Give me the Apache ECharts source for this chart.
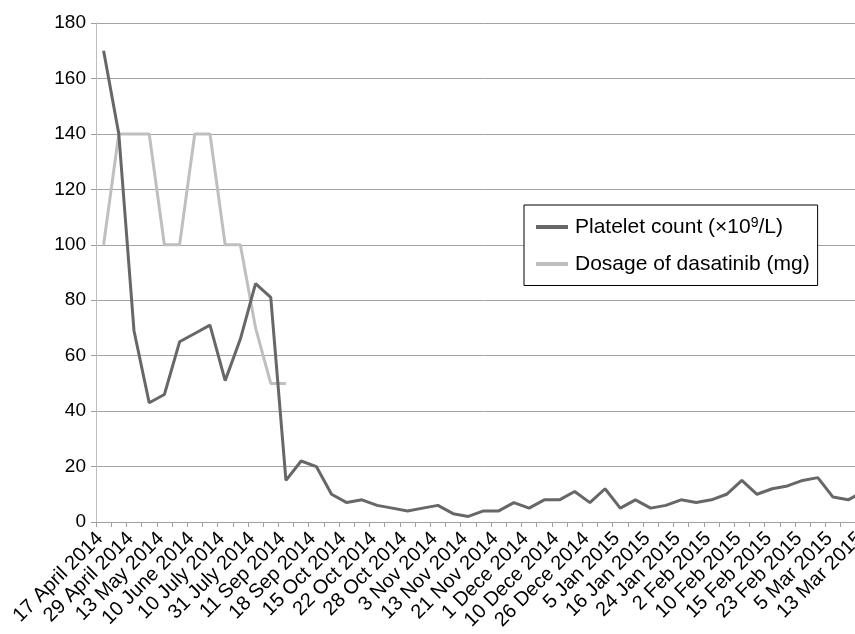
<!DOCTYPE html>
<html>
<head>
<meta charset="utf-8">
<script src="https://cdn.jsdelivr.net/npm/echarts@6/dist/echarts.min.js"></script>
<style>
html,body{margin:0;padding:0;background:#fff;overflow:hidden;width:855px;height:634px;}
#chart{width:871px;height:634px;}
</style>
</head>
<body>
<div id="chart"></div>
<script>
// Category labels (every other date is labelled in the original; unlabelled ones left blank)
const categories = [
  "17 April 2014","","29 April 2014","","13 May 2014","","10 June 2014","","10 July 2014","",
  "31 July 2014","","11 Sep 2014","","18 Sep 2014","","15 Oct 2014","","22 Oct 2014","",
  "28 Oct 2014","","3 Nov 2014","","13 Nov 2014","","21 Nov 2014","","1 Dece 2014","",
  "10 Dece 2014","","26 Dece 2014","","5 Jan 2015","","16 Jan 2015","","24 Jan 2015","",
  "2 Feb 2015","","10 Feb 2015","","15 Feb 2015","","23 Feb 2015","","5 Mar 2015","",
  "13 Mar 2015"
];
const plateletName = "Platelet count (×10⁹/L)";
const dosageName = "Dosage of dasatinib (mg)";
const plateletValues = [
  170,140,69,43,46,65,68,71,51,66,
  86,81,15,22,20,10,7,8,6,5,
  4,5,6,3,2,4,4,7,5,8,
  8,11,7,12,5,8,5,6,8,7,
  8,10,15,10,12,13,15,16,9,8,
  11
];
const dosageValues = [100,140,140,140,100,100,140,140,100,100,70,50,50];
const yTicks = {min:0, max:180, interval:20};

const chart = echarts.init(document.getElementById('chart'), null, {renderer:'canvas'});
const FONT = 'Liberation Sans, Arial, sans-serif';
chart.setOption({
  backgroundColor:'#ffffff',
  animation:false,
  textStyle:{fontFamily:FONT},
  grid:{left:96, top:23, bottom:112, right:0, containLabel:false},
  legend:{
    orient:'vertical',
    left:524, top:205,
    padding:[11,8,11,12],
    borderColor:'#000', borderWidth:1,
    backgroundColor:'#fff',
    itemWidth:32, itemHeight:4, itemGap:16,
    icon:'rect',
    data:[plateletName, dosageName],
    formatter:function(name){
      if(name===plateletName) return '{t|Platelet count (×10}{s|9}{t|/L)}';
      return '{t|' + name + '}';
    },
    textStyle:{
      fontFamily:FONT, fontSize:21, color:'#000', padding:[0,0,0,2],
      rich:{
        t:{fontFamily:FONT, fontSize:21, color:'#000'},
        s:{fontFamily:FONT, fontSize:14, color:'#000', verticalAlign:'top', padding:[0,0,8,0]}
      }
    }
  },
  xAxis:{
    type:'category',
    data:categories,
    boundaryGap:true,
    axisLine:{lineStyle:{color:'#a0a0a0', width:1}},
    axisTick:{show:true, interval:0, length:5, lineStyle:{color:'#a0a0a0'}},
    axisLabel:{interval:0, rotate:45, margin:10, color:'#000', fontFamily:FONT, fontSize:20, padding:[0,5,0,0]},
    splitLine:{show:false}
  },
  yAxis:{
    type:'value',
    min:yTicks.min, max:yTicks.max, interval:yTicks.interval,
    axisLine:{show:true, lineStyle:{color:'#bdbdbd', width:1}},
    axisTick:{show:true, length:5, lineStyle:{color:'#a0a0a0'}},
    axisLabel:{color:'#000', fontFamily:FONT, fontSize:19, margin:10},
    splitLine:{show:true, lineStyle:{color:'#a3a3a3', width:1}}
  },
  series:[
    {
      name:plateletName, type:'line', data:plateletValues,
      symbol:'none', smooth:false,
      lineStyle:{color:'#676767', width:3},
      itemStyle:{color:'#676767'},
      z:3
    },
    {
      name:dosageName, type:'line', data:dosageValues,
      symbol:'none', smooth:false,
      lineStyle:{color:'#bfbfbf', width:3},
      itemStyle:{color:'#bfbfbf'},
      z:2
    }
  ]
});
</script>
</body>
</html>
